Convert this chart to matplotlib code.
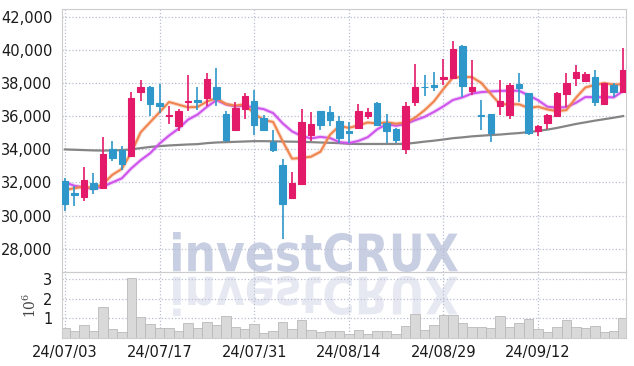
import numpy as np
import pandas as pd
import matplotlib
matplotlib.use('Agg')
import matplotlib.pyplot as plt
import matplotlib.patheffects as pe
from matplotlib.ticker import FuncFormatter
from matplotlib.textpath import TextPath
from matplotlib.patches import PathPatch
from matplotlib.transforms import Affine2D, IdentityTransform
from matplotlib.font_manager import FontProperties

dates = ['2024-07-03', '2024-07-04', '2024-07-05', '2024-07-08', '2024-07-09', '2024-07-10',
         '2024-07-11', '2024-07-12', '2024-07-15', '2024-07-16', '2024-07-17', '2024-07-18',
         '2024-07-19', '2024-07-22', '2024-07-23', '2024-07-24', '2024-07-25', '2024-07-26',
         '2024-07-29', '2024-07-30', '2024-07-31', '2024-08-01', '2024-08-02', '2024-08-05',
         '2024-08-06', '2024-08-07', '2024-08-08', '2024-08-09', '2024-08-12', '2024-08-13',
         '2024-08-14', '2024-08-16', '2024-08-19', '2024-08-20', '2024-08-21', '2024-08-22',
         '2024-08-23', '2024-08-26', '2024-08-27', '2024-08-28', '2024-08-29', '2024-08-30',
         '2024-09-02', '2024-09-03', '2024-09-04', '2024-09-05', '2024-09-06', '2024-09-09',
         '2024-09-10', '2024-09-11', '2024-09-12', '2024-09-13', '2024-09-19', '2024-09-20',
         '2024-09-23', '2024-09-24', '2024-09-25', '2024-09-26', '2024-09-27', '2024-09-30']

opens = [32100, 31350, 31100, 31950, 31650, 34050, 33950, 33600, 37500, 37800,
         36800, 36000, 35400, 36850, 37000, 37100, 37800, 36150, 35150, 36450,
         36950, 35900, 34450, 33050, 31050, 31900, 34900, 36300, 36250, 35700,
         35100, 35300, 36050, 36800, 35600, 35250, 34050, 36900, 37800, 37900,
         38250, 38300, 40250, 37550, 36100, 36150, 36600, 36100, 37950, 37400,
         35100, 35600, 36050, 37350, 38350, 38150, 38400, 36750, 37900, 37450]
highs = [32250, 31800, 32950, 32600, 34750, 34500, 34200, 37500, 38200, 37850,
         37950, 36600, 36450, 38500, 37750, 38600, 38900, 36350, 36850, 37400,
         37600, 36100, 35200, 33450, 32650, 36450, 36250, 36350, 36650, 36000,
         35650, 36750, 36500, 36850, 36150, 35300, 36850, 39150, 38500, 38700,
         39500, 40550, 40350, 39400, 37000, 36150, 38200, 38000, 38600, 37400,
         35500, 36150, 37450, 38600, 39100, 38700, 38800, 38000, 38000, 40150]
lows = [30300, 30600, 30850, 31300, 31600, 33300, 32750, 33600, 36950, 36050,
        36200, 35550, 35100, 36300, 36400, 36600, 36650, 34450, 35100, 35850,
        34850, 35150, 33850, 28550, 31000, 31850, 34500, 35150, 35400, 34400,
        34400, 35250, 35850, 35400, 34400, 34400, 33750, 36650, 37250, 37550,
        37900, 38250, 37200, 37300, 35200, 34450, 36100, 35850, 36900, 34900,
        34800, 35250, 36000, 36550, 37850, 38100, 36600, 36700, 37200, 37450]
closes = [30700, 31250, 32150, 31600, 33750, 33500, 33100, 37100, 37750, 36750,
          36600, 36100, 36350, 36950, 36850, 38250, 37050, 34600, 36500, 37250,
          35450, 35150, 33950, 30700, 31950, 35650, 35550, 35450, 35800, 34700,
          35000, 36350, 36250, 35500, 35100, 34600, 36650, 37750, 37750, 37800,
          38400, 40100, 37850, 37750, 36050, 35000, 36950, 37900, 37700, 35000,
          35400, 36100, 37400, 38000, 38700, 38550, 36850, 38000, 37500, 38800]

ma5 = [31550, 31650, 31750, 31650, 31900, 32460, 32820, 33810, 35040, 35650,
       36260, 36870, 36710, 36550, 36570, 36900, 37100, 36750, 36650, 36730,
       36160, 35780, 35660, 34500, 33440, 33480, 33560, 33860, 34880, 35430,
       35300, 35460, 35630, 35570, 35640, 35560, 35620, 35920, 36370, 36910,
       37660, 38350, 38380, 38380, 38030, 37360, 36730, 36740, 36730, 36510,
       36590, 36420, 36320, 36380, 37120, 37750, 37900, 38020, 37920, 37950]
ma10 = [32000, 31800, 31700, 31620, 31750, 32000, 32250, 32850, 33350, 33770,
        34360, 34840, 35260, 35800, 36110, 36580, 36980, 36730, 36600, 36650,
        36530, 36440, 36200, 35580, 35090, 34820, 34670, 34760, 34690, 34440,
        34390, 34510, 34740, 35220, 35530, 35430, 35540, 35770, 35970, 36270,
        36610, 36990, 37150, 37380, 37470, 37510, 37540, 37560, 37550, 37270,
        36980, 36580, 36530, 36560, 36820, 37170, 37160, 37170, 37150, 37540]
ma60 = [34000, 33980, 33960, 33940, 33930, 33940, 33960, 34000, 34080, 34150,
        34200, 34240, 34270, 34300, 34320, 34380, 34420, 34440, 34460, 34480,
        34500, 34500, 34490, 34480, 34470, 34460, 34440, 34420, 34400, 34380,
        34340, 34330, 34330, 34330, 34330, 34330, 34340, 34400, 34470, 34530,
        34600, 34680, 34730, 34790, 34830, 34870, 34900, 34950, 34990, 35050,
        35120, 35200, 35300, 35420, 35540, 35640, 35740, 35830, 35920, 36020]

# volume in millions of shares
volume = [0.51, 0.37, 0.66, 0.37, 1.58, 0.46, 0.32, 3.07, 1.07, 0.71,
          0.51, 0.51, 0.37, 0.76, 0.51, 0.81, 0.66, 1.12, 0.56, 0.46,
          0.71, 0.27, 0.37, 0.81, 0.46, 0.92, 0.41, 0.29, 0.37, 0.37,
          0.23, 0.41, 0.19, 0.37, 0.37, 0.19, 0.62, 1.24, 0.41, 0.68,
          1.19, 1.17, 0.78, 0.56, 0.56, 0.51, 1.12, 0.56, 0.78, 0.97,
          0.46, 0.32, 0.56, 0.92, 0.56, 0.51, 0.61, 0.32, 0.37, 1.02]

UP = '#e3196a'
DOWN = '#2f97c9'
GRID = '#b9bed3'
W, H = 634, 366

df = pd.DataFrame({'open': opens, 'high': highs, 'low': lows, 'close': closes,
                   'vol': volume}, index=pd.to_datetime(dates))
x = np.arange(len(df))
colors = [UP if c >= o else DOWN for o, c in zip(df['open'], df['close'])]

plt.rcParams['font.family'] = ['Liberation Sans Narrow', 'DejaVu Sans']
plt.rcParams['mathtext.fontset'] = 'dejavuserif'
fig = plt.figure(figsize=(W / 100, H / 100), dpi=100)
fig.patch.set_facecolor('white')
ax = fig.add_axes([62 / W, 1 - 272 / H, 564 / W, 263 / H])
axv = fig.add_axes([62 / W, 1 - 338 / H, 564 / W, 66 / H])

# watermark and its reflection
fp = FontProperties(family='DejaVu Sans', weight='bold')
tp = TextPath((0, 0), 'investCRUX', size=1, prop=fp)
ext = tp.get_extents()
sx = (458 - 173) / ext.width
sy = (272 - 232) / ext.height
t1 = Affine2D().translate(-ext.x0, -ext.y0).scale(sx, sy).translate(173, H - 272)
t2 = Affine2D().translate(-ext.x0, -ext.y0).scale(sx, -sy).translate(173, H - 276)
fig.add_artist(PathPatch(t1.transform_path(tp), fc='#c9cfe3', ec='none',
                         transform=IdentityTransform(), zorder=-1))
fig.add_artist(PathPatch(t2.transform_path(tp), fc='#e7e9f2', ec='none',
                         transform=IdentityTransform(), zorder=-1))

for a in (ax, axv):
    a.set_facecolor('none')
    a.grid(True, linestyle=':', color=GRID, linewidth=0.9)
    a.set_axisbelow(True)
    a.tick_params(length=0, labelsize=10.5, colors='#1a1a1a')
    for s in a.spines.values():
        s.set_color('#cccccc')
    a.set_xlim(-0.32, 59.3)

# moving averages
ax.plot(x, ma60, color='#858585', lw=1.6, zorder=2)
ax.plot(x, ma10, color='#cf55ec', lw=1.5, zorder=2,
        path_effects=[pe.withStroke(linewidth=3, foreground='#cf55ec', alpha=0.25)])
ax.plot(x, ma5, color='#f0844e', lw=1.5, zorder=2,
        path_effects=[pe.withStroke(linewidth=3, foreground='#f0844e', alpha=0.25)])

# candles
ax.vlines(x, df['low'], df['high'], colors=colors, lw=1.2, zorder=3)
bottoms = np.minimum(df['open'], df['close'])
heights = np.abs(df['close'] - df['open'])
ax.bar(x, heights, bottom=bottoms, width=0.68, color=colors, edgecolor=colors,
       linewidth=0.8, zorder=4)

ax.set_ylim(26580, 42500)
ax.set_yticks(range(28000, 42001, 2000))
ax.yaxis.set_major_formatter(FuncFormatter(lambda v, p: f'{int(v):,}'))
ax.tick_params(axis='y', pad=7)
ticks = list(range(0, 60, 10))
ax.set_xticks(ticks)
ax.tick_params(axis='x', labelbottom=False)

# volume
axv.bar(x, df['vol'], width=1.0, color='#d9d9d9', edgecolor='#b9b9b9', linewidth=0.6, zorder=2)
axv.set_ylim(0, 3.38)
axv.set_yticks([1, 2, 3])
axv.tick_params(axis='y', pad=7)
axv.set_xticks(ticks)
axv.set_xticklabels([df.index[i].strftime('%y/%m/%d') for i in ticks])
axv.tick_params(axis='x', pad=5)
axv.set_ylabel(r'$10^6$', fontsize=10, color='#444444', labelpad=3)

fig.savefig('out.png', dpi=100)
